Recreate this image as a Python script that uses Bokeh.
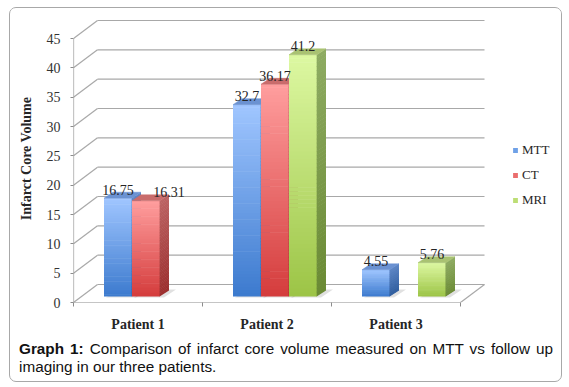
import numpy as np
from bokeh.plotting import figure
from bokeh.models import Range1d, FixedTicker, Legend, LegendItem, Div
from bokeh.layouts import column
from bokeh.embed import file_html
from bokeh.resources import INLINE

# ---- data ----
patients = ["Patient 1", "Patient 2", "Patient 3"]
series_names = ["MTT", "CT", "MRI"]
mtt = [16.75, 32.7, 4.55]
ct = [16.31, 36.17, None]
mri = [None, 41.2, 5.76]
y_ticks = [0, 5, 10, 15, 20, 25, 30, 35, 40, 45]

# ---- styling ----
front_bottom = ["#3c7ace", "#d43c3c", "#9cc446"]
front_top = ["#a0c6ff", "#ff9e9e", "#ddf8a2"]
side_bottom = ["#2f5d9e", "#9c2f2e", "#6a8a34"]
side_top = ["#5b84c4", "#bc6464", "#8eab62"]
top_face = ["#6b92d2", "#c96c6c", "#a9c272"]
GRID = "#a8a8a8"
AXIS = "#8c8c8c"

CAT_PX = 129.0            # px per category
Y_PX = 264.0 / 45.0       # px per unit
FRAME_W, FRAME_H = 482, 288

def px_x(v):
    return v / CAT_PX

def px_y(v):
    return v / Y_PX

x_start = -0.5
x_end = x_start + FRAME_W / CAT_PX
y_end = FRAME_H / Y_PX

p = figure(width=551, height=330, output_backend="svg", toolbar_location=None,
           x_range=Range1d(x_start, x_end), y_range=Range1d(0, y_end),
           min_border_left=63, min_border_right=6, min_border_top=6, min_border_bottom=36)
p.outline_line_color = None
p.xgrid.visible = False
p.ygrid.visible = False
p.background_fill_color = "white"
p.border_fill_color = "white"

# ---- 3D back wall / floor grid ----
fdx, fdy = px_x(24), px_y(18)
xl, xr = -0.5, 2.5
gx0, gy0, gx1, gy1 = [], [], [], []
for t in y_ticks:
    gx0 += [xl, xl + fdx]
    gy0 += [t, t + fdy]
    gx1 += [xl + fdx, xr + fdx]
    gy1 += [t + fdy, t + fdy]
gx0 += [xr]; gy0 += [0]; gx1 += [xr + fdx]; gy1 += [fdy]
p.segment(x0=gx0, y0=gy0, x1=gx1, y1=gy1, line_color=GRID, line_width=1.2)
p.segment(x0=[xl, xl], y0=[0, 0], x1=[xr, xl], y1=[0, y_ticks[-1]], line_color=AXIS, line_width=1.2)

# ---- bars ----
w = px_x(28)
bx, by = px_x(8), px_y(6)
bdx, bdy = px_x(9), px_y(6)
N = 60
ovl = px_y(0.6)

def mix(c0, c1, t):
    a = np.array([int(c0[i:i + 2], 16) for i in (1, 3, 5)], float)
    b = np.array([int(c1[i:i + 2], 16) for i in (1, 3, 5)], float)
    c = a + (b - a) * t
    return "#%02x%02x%02x" % tuple(int(round(v)) for v in c)

label_x, label_y, label_t = [], [], []
all_series = [mtt, ct, mri]
legend_items = []
for si, vals in enumerate(all_series):
    legend_r = None
    for ci in range(len(patients)):
        v = vals[ci]
        if v is None:
            continue
        x0 = ci - 1.5 * w + si * w + bx
        x1 = x0 + w
        y0, y1 = by, by + v
        # soft floor shadow behind the bar
        p.patch(x=[x0 + px_x(2), x0 + bdx + px_x(6), x1 + bdx + px_x(7), x1 + px_x(4)],
                y=[y0 - px_y(1), y0 + bdy + px_y(1), y0 + bdy + px_y(1), y0 - px_y(1)],
                fill_color="#000000", fill_alpha=0.12, line_color=None)
        ys = np.linspace(y0, y1, N + 1)
        tops = ys[1:].copy()
        tops[:-1] += ovl
        ts = (np.arange(N) + 0.5) / N
        cols = [mix(front_bottom[si], front_top[si], t) for t in ts]
        r = p.quad(left=x0, right=x1, bottom=ys[:-1], top=tops, fill_color=cols,
                   line_color=None)
        if legend_r is None:
            legend_r = r
        scols = [mix(side_bottom[si], side_top[si], t) for t in ts]
        sxs = [[x1 - px_x(0.3), x1 + bdx, x1 + bdx, x1 - px_x(0.3)] for _ in range(N)]
        sys_ = [[ys[k], ys[k] + bdy, tops[k] + bdy, tops[k]] for k in range(N)]
        p.patches(xs=sxs, ys=sys_, fill_color=scols, line_color=None)
        p.patch(x=[x0, x0 + bdx, x1 + bdx, x1], y=[y1, y1 + bdy, y1 + bdy, y1],
                fill_color=top_face[si], line_color=top_face[si], line_width=0.5)
        nudge = px_x(23) if (ci == 0 and si == 1) else 0.0
        label_x.append((x0 + x1) / 2 + nudge)
        label_y.append(y1 + bdy + px_y(2.5))
        label_t.append(str(v))
    legend_items.append(LegendItem(label=series_names[si], renderers=[legend_r], index=N // 2))

p.text(x=label_x, y=label_y, text=label_t,
       text_align="center", text_baseline="alphabetic",
       text_font={"value": "Liberation Serif"}, text_font_size="14px", text_color="#262626")

# ---- axes ----
p.xaxis.ticker = FixedTicker(ticks=[0, 1, 2], minor_ticks=[-0.5, 0.5, 1.5, 2.5])
p.xaxis.major_label_overrides = {i: name for i, name in enumerate(patients)}
p.xaxis.axis_line_color = None
p.xaxis.major_tick_line_color = None
p.xaxis.major_tick_out = 0
p.xaxis.major_tick_in = 0
p.xaxis.minor_tick_out = 4
p.xaxis.minor_tick_in = 0
p.xaxis.minor_tick_line_color = AXIS
p.xaxis.major_label_standoff = 10
p.xaxis.major_label_text_font = "Liberation Serif"
p.xaxis.major_label_text_font_style = "bold"
p.xaxis.major_label_text_font_size = "14px"
p.xaxis.major_label_text_color = "#262626"

p.yaxis.ticker = FixedTicker(ticks=y_ticks, minor_ticks=[])
p.yaxis.axis_line_color = None
p.yaxis.major_tick_out = 3
p.yaxis.major_tick_in = 0
p.yaxis.major_tick_line_color = AXIS
p.yaxis.major_label_standoff = 10
p.yaxis.major_label_text_font = "Liberation Serif"
p.yaxis.major_label_text_font_size = "14px"
p.yaxis.major_label_text_color = "#333333"
p.yaxis.axis_label = "Infarct Core Volume"
p.yaxis.axis_label_text_font = "Liberation Serif"
p.yaxis.axis_label_text_font_style = "bold"
p.yaxis.axis_label_text_font_size = "14px"
p.yaxis.axis_label_text_color = "#262626"
p.yaxis.axis_label_standoff = 10

# ---- legend ----
legend = Legend(items=legend_items, location=(439, 94), glyph_width=6, glyph_height=6,
                label_standoff=4, spacing=9, label_height=16, padding=0, margin=0,
                border_line_color=None, background_fill_alpha=0,
                label_text_font="Liberation Serif", label_text_font_size="13px",
                label_text_color="#262626")
p.add_layout(legend)

caption = Div(
    text='<div style="width:534px; margin:-3.5px 0 0 4px; '
         'font-family:\'Liberation Sans\',Arial,sans-serif; '
         'font-size:15.3px; line-height:18px; color:#111;">'
         '<div style="display:block; width:534px; text-align:justify; text-align-last:justify;">'
         '<b>Graph 1:</b> '
         '<span>Comparison of infarct core volume measured on MTT vs follow up</span></div>'
         '<div>imaging in our three patients.</div></div>',
    width=551, height=43)

layout = column(p, caption, width=553, height=375,
                styles={"border": "1px solid #a8a8a8", "border-radius": "7px",
                        "overflow": "hidden", "background": "white",
                        "margin-left": "9px", "margin-top": "7px"})

open("out.html", "w").write(file_html(layout, INLINE))
